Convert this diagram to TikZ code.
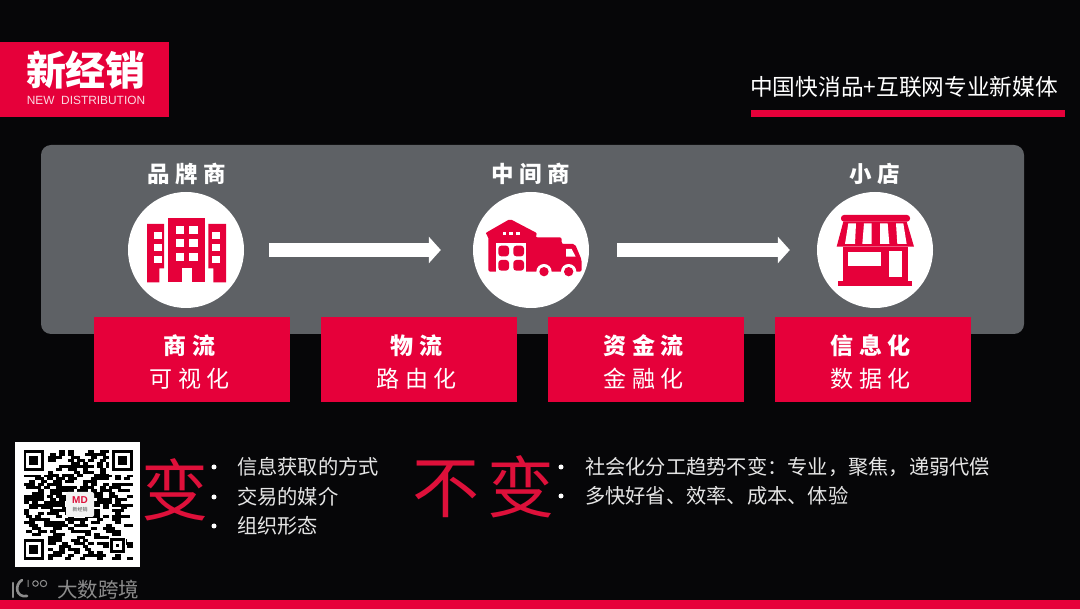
\documentclass[tikz,border=0pt]{standalone}
\usepackage{fontspec}
\usetikzlibrary{arrows.meta, positioning}
\setmainfont{Noto Sans CJK SC}
\setsansfont{Liberation Sans}
\newfontfamily\cjkwide[LetterSpace=25]{Noto Sans CJK SC}
\newfontfamily\cjkthin[LetterSpace=12]{Noto Sans CJK SC}
\definecolor{brandred}{RGB}{230,0,58}
\definecolor{bigred}{RGB}{222,16,58}
\definecolor{panelgray}{RGB}{94,97,101}
\definecolor{pagedark}{RGB}{6,6,8}
\definecolor{marksgray}{RGB}{140,140,140}
\tikzset{
	circlenode/.style={circle, fill=white, minimum size=116pt, inner sep=0pt},
	redbox/.style={rectangle, fill=brandred, minimum width=196pt, minimum height=85pt, inner sep=0pt},
	boxtitle/.style={text=white, inner sep=0pt, font=\cjkwide\bfseries\fontsize{23}{26}\selectfont},
	boxsub/.style={text=white, inner sep=0pt, font=\cjkwide\fontsize{23}{26}\selectfont},
	headlabel/.style={text=white, inner sep=0pt, font=\cjkwide\bfseries\fontsize{22.5}{26}\selectfont},
	flowarrow/.style={line width=14pt, white, -{Triangle[length=12pt,width=26pt]}},
	bulletnode/.style={circle, fill=white, minimum size=5pt, inner sep=0pt},
	linenode/.style={text=white!90!black, anchor=west, inner sep=0pt, font=\fontsize{20.25}{24}\selectfont},
	bigword/.style={text=bigred, inner sep=0pt, font=\cjkthin\fontsize{67}{70}\selectfont}
}
\begin{document}
\begin{tikzpicture}[x=1pt,y=-1pt]
	\useasboundingbox (0,0) rectangle (1080,609);
	\fill[pagedark] (0,0) rectangle (1080,609);
	
	% Logo and header
	\fill[brandred] (0,42) rectangle (169,117);
	\node[text=white, inner sep=0pt, font=\bfseries\fontsize{40}{44}\selectfont] (logo) at (86,70) {新经销};
	\node[text=white!85!brandred, inner sep=0pt, font=\sffamily\fontsize{11.9}{14}\selectfont] (logoen) at (86,100) {NEW\ \ DISTRIBUTION};
	\node[text=white, anchor=west, inner sep=0pt, font=\fontsize{22.7}{26}\selectfont] (slogan) at (750,87) {中国快消品+互联网专业新媒体};
	\fill[brandred] (751,110) rectangle (1065,117);
	
	% Panel
	\fill[panelgray, rounded corners=10pt] (41,145) rectangle (1024,334);
	
	% Circles and arrows
	\node[circlenode] (brand) at (186,250) {};
	\node[circlenode] (dealer) at (531,250) {};
	\node[circlenode] (shop) at (875,250) {};
	\node[headlabel] (brandlabel) at (187,174) {品牌商};
	\node[headlabel] (dealerlabel) at (531,174) {中间商};
	\node[headlabel] (shoplabel) at (875,174) {小店};
	\draw[flowarrow, shorten <=25pt, shorten >=32pt] (brand) -- (dealer);
	\draw[flowarrow, shorten <=28pt, shorten >=27pt] (dealer) -- (shop);
	
	% Building icon
	\begin{scope}[shift={(110,150)},scale=1/3]
		\fill[brandred] (111,222) -- (162,222) -- (162,355) -- (148,355) -- (148,397) -- (111,397) -- cycle;
		\fill[brandred] (175,205) rectangle (285,397);
		\fill[brandred] (295,222) -- (348,222) -- (348,397) -- (310,397) -- (310,355) -- (295,355) -- cycle;
		\fill[white] (215,355) rectangle (245,397);
		\foreach \y in {245,282,318} {
			\fill[white] (132,\y) rectangle (155,\y+22);
			\fill[white] (307,\y) rectangle (330,\y+22);
		}
		\foreach \y in {228,268,308} {
			\fill[white] (197,\y) rectangle (222,\y+24);
			\fill[white] (238,\y) rectangle (263,\y+24);
		}
	\end{scope}
	
	% Warehouse and truck icon
	\begin{scope}[shift={(460,150)},scale=1/3]
		\fill[brandred, rounded corners=2pt] (75,250) -- (150,207) -- (232,250) -- (226,262) -- (305,262) -- (305,282) -- (345,282) -- (365,330) -- (365,365) -- (85,365) -- (85,258) -- cycle;
		\fill[white] (108,280) rectangle (197,365);
		\foreach \x in {115,160} {
			\foreach \y in {287,330} {
				\fill[brandred, rounded corners=3pt] (\x,\y) rectangle (\x+32,\y+32);
			}
		}
		\foreach \x in {128,148,168} {
			\fill[white] (\x,247) rectangle (\x+11,255);
		}
		\fill[white] (318,297) -- (335,297) -- (347,320) -- (318,320) -- cycle;
		\foreach \x in {252,326} {
			\fill[white] (\x,365) circle (23pt);
			\fill[brandred] (\x,365) circle (14pt);
		}
	\end{scope}
	
	% Store icon
	\begin{scope}[shift={(460,150)},scale=1/3]
		\fill[brandred, rounded corners=3pt] (1143,195) rectangle (1350,215);
		\fill[brandred] (1150,215) -- (1340,215) -- (1362,290) -- (1130,290) -- cycle;
		\fill[brandred] (1148,290) rectangle (1345,395);
		\fill[brandred] (1135,393) rectangle (1355,408);
		\fill[white] (1165,220) -- (1188,220) -- (1185,282) -- (1155,282) -- cycle;
		\fill[white] (1212,220) -- (1235,220) -- (1235,282) -- (1207,282) -- cycle;
		\fill[white] (1260,220) -- (1283,220) -- (1288,282) -- (1260,282) -- cycle;
		\fill[white] (1308,220) -- (1330,220) -- (1340,282) -- (1312,282) -- cycle;
		\fill[white] (1165,305) rectangle (1262,348);
		\fill[white] (1288,303) rectangle (1325,382);
	\end{scope}
	
	% Red boxes
	\foreach \x/\top/\sub [count=\n] in {192/商流/可视化,419/物流/路由化,646/资金流/金融化,873/信息化/数据化} {
		\node[redbox] (box\n) at (\x,359.5) {};
		\node[boxtitle] (boxtop\n) at (\x-2.5,346) {\top};
		\node[boxsub] (boxsub\n) at (\x-2.5,379) {\sub};
	}
	
	% QR code
	\fill[white] (15,442) rectangle (140,567);
	\pgfmathsetseed{42}
	\foreach \x in {0,...,35} {
		\foreach \y in {0,...,36} {
			\pgfmathrandominteger{\bit}{0}{2}
			\ifnum\bit=0
				\fill[black] (23.5+\x*2.95,450.5+\y*2.95) rectangle +(5.9,2.95);
			\fi
		}
	}
	\foreach \x/\y in {23.5/450.5,23.5/536,109/450.5} {
		\fill[white] (\x,\y) rectangle +(24,24.7);
	}
	\foreach \x/\y in {23.5/450.5,23.5/539.5,112/450.5} {
		\fill[black] (\x,\y) rectangle +(20.65,20.65);
		\fill[white] (\x+2.95,\y+2.95) rectangle +(14.75,14.75);
		\fill[black] (\x+5.9,\y+5.9) rectangle +(8.85,8.85);
	}
	\fill[white] (108.5,536.5) rectangle +(17.7,17.7);
	\fill[black] (110,538) rectangle +(14.75,14.75);
	\fill[white] (113,541) rectangle +(8.85,8.85);
	\fill[black] (116,544) rectangle +(2.95,2.95);
	\fill[white!95!black, rounded corners=2pt] (66,492) rectangle (94,517);
	\node[text=bigred, inner sep=0pt, font=\sffamily\bfseries\fontsize{10}{10}\selectfont] (qrmark) at (80,500) {MD};
	\node[text=black!70, inner sep=0pt, font=\fontsize{5}{5}\selectfont] (qrname) at (80,510) {新经销};
	
	% Watermark
	\draw[marksgray, line width=2.6pt, line cap=round] (13,583) -- (13,597);
	\draw[marksgray, line width=2.6pt, line cap=round] (22,580) .. controls (14,585) and (16,598) .. (27,596);
	\draw[marksgray, line width=1pt] (28,580) -- (28,587) (35.5,583.5) circle (2.8pt) (43.5,583.5) circle (3.2pt);
	\node[text=marksgray, anchor=west, inner sep=0pt, font=\fontsize{20.5}{24}\selectfont] (mark) at (57,590) {大数跨境};
	\fill[brandred] (0,600) rectangle (1080,609);
	
	% Bottom lists
	\node[bigword] (chg) at (175,490) {变};
	\node[bigword] (keep) at (484,487) {不变};
	\foreach \y/\txt [count=\n] in {467/信息获取的方式,497/交易的媒介,526/组织形态} {
		\node[bulletnode] (chgdot\n) at (214,\y) {};
		\node[linenode] (chgline\n) at (237,\y) {\txt};
	}
	\foreach \y/\txt [count=\n] in {467/社会化分工趋势不变：专业，聚焦，递弱代偿,496/多快好省、效率、成本、体验} {
		\node[bulletnode] (keepdot\n) at (561,\y) {};
		\node[linenode] (keepline\n) at (585,\y) {\txt};
	}
\end{tikzpicture}
\end{document}
